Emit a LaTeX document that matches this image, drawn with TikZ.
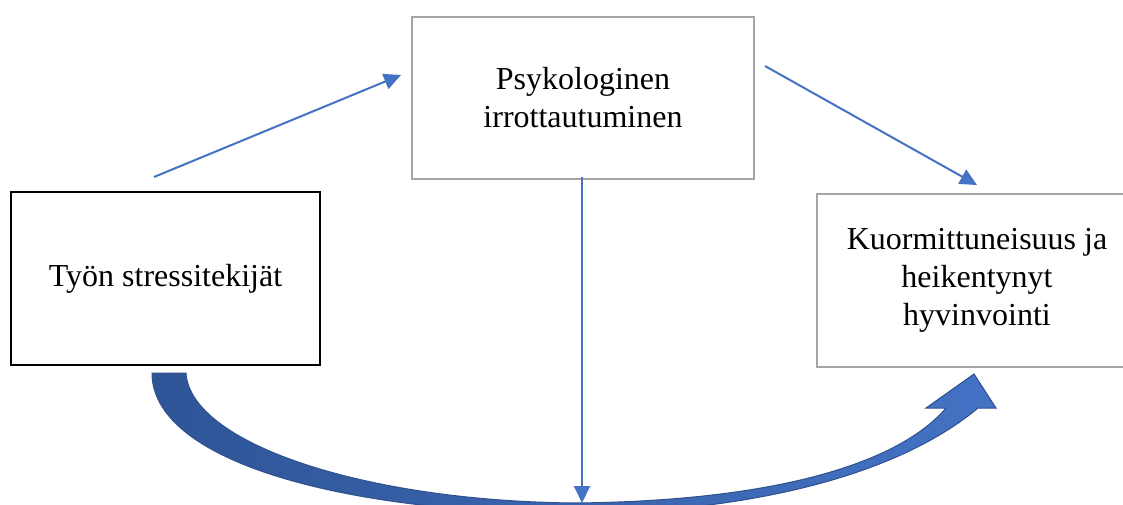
\documentclass[tikz,border=0pt]{standalone}
\usepackage{fontspec}
\setmainfont{Liberation Serif}
\usetikzlibrary{arrows.meta}
\definecolor{arrowblue}{HTML}{4472C4}
\definecolor{darkblue}{HTML}{2F5597}
\definecolor{edgeblue}{HTML}{2F528F}
\definecolor{boxgray}{HTML}{A5A5A5}
\tikzset{
  txt/.style={font=\fontsize{32}{38}\selectfont, align=center, inner sep=0pt},
  blackbox/.style={txt, draw=black, line width=2.6pt},
  graybox/.style={txt, draw=boxgray, line width=2.4pt},
  thinarrow/.style={draw=arrowblue, line width=2pt, -{Triangle[length=17pt,width=16pt]}},
}
\begin{document}
\begin{tikzpicture}[x=1pt,y=-1pt]
\useasboundingbox (0,0) rectangle (1123,505);
\clip (0,0) rectangle (1123,505);
\fill[white] (0,0) rectangle (1123,505);

% boxes
\node[blackbox, minimum width=309pt, minimum height=173pt] (stress) at (165.5,278.5) {Työn stressitekijät};
\node[graybox, minimum width=342pt, minimum height=162pt] (detach) at (583,98) {Psykologinen\\irrottautuminen};
\node[graybox, minimum width=320pt, minimum height=173pt] (strain) at (977,280.5) {Kuormittuneisuus ja\\heikentynyt\\hyvinvointi};

% big curved arrow
\shade[left color=darkblue, right color=arrowblue, draw=edgeblue, line width=1pt, line join=miter]
  (152,373) .. controls (152,458) and (330,512) .. (575,514)
  .. controls (780,511) and (910,465) .. (978,408)
  -- (996,408) -- (974,374) -- (926,408) -- (946,408)
  .. controls (900,462) and (780,501) .. (575,503)
  .. controls (360,501) and (190,442) .. (186,373) -- cycle;

% free ends
\coordinate (a1s) at (154,177);
\coordinate (a1e) at (401,75);
\coordinate (a2s) at (765,66);
\coordinate (a2e) at (977,185);
\coordinate (a3s) at (582,177);
\coordinate (a3e) at (582,503);

\draw[thinarrow] (a1s) -- (a1e);
\draw[thinarrow] (a2s) -- (a2e);
\draw[thinarrow] (a3s) -- (a3e);
\end{tikzpicture}
\end{document}
